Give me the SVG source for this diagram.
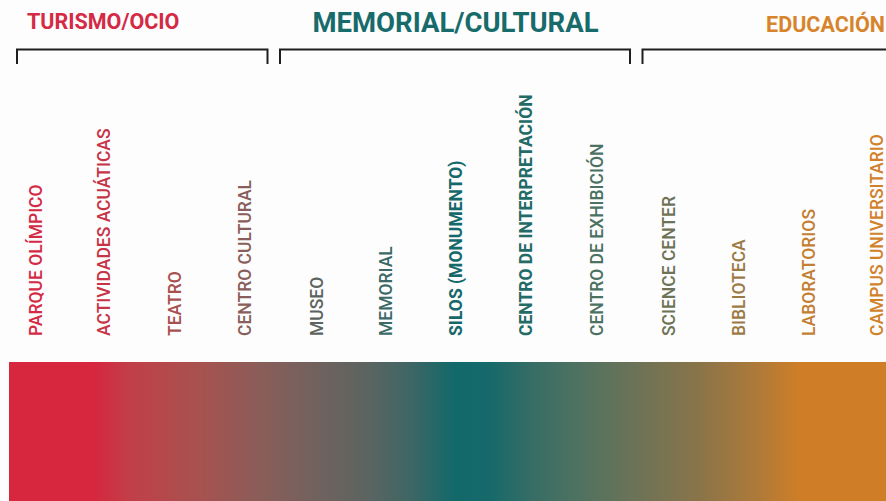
<svg xmlns="http://www.w3.org/2000/svg" width="886" height="501" viewBox="0 0 886 501">
  <style>
    .hdr { font-family: Roboto, "Liberation Sans", sans-serif; font-weight: 700; }
    .lbl { font-family: Roboto, "Liberation Sans", sans-serif; font-size: 17.5px; font-weight: 500; }
    .b { font-weight: 700; }
    .br { fill: none; stroke: #1e1e1e; stroke-width: 2; }
  </style>
  <defs>
    <linearGradient id="grad" gradientUnits="userSpaceOnUse" x1="9" y1="0" x2="886" y2="0">
      <stop offset="0" stop-color="#d6273f"/>
      <stop offset="0.098" stop-color="#d6273f"/>
      <stop offset="0.138" stop-color="#c13f48"/>
      <stop offset="0.218" stop-color="#a7524f"/>
      <stop offset="0.286" stop-color="#8a5d59"/>
      <stop offset="0.355" stop-color="#6f625e"/>
      <stop offset="0.412" stop-color="#5a6461"/>
      <stop offset="0.457" stop-color="#3f6665"/>
      <stop offset="0.508" stop-color="#12696a"/>
      <stop offset="0.548" stop-color="#16696a"/>
      <stop offset="0.594" stop-color="#356d66"/>
      <stop offset="0.651" stop-color="#507260"/>
      <stop offset="0.720" stop-color="#6e7356"/>
      <stop offset="0.788" stop-color="#8a7449"/>
      <stop offset="0.857" stop-color="#b07a38"/>
      <stop offset="0.902" stop-color="#cf7e27"/>
      <stop offset="1" stop-color="#cf7e27"/>
    </linearGradient>
  </defs>
  <rect x="0" y="0" width="886" height="501" fill="#fdfdfd"/>

  <g id="headers">
    <g id="h-turismo"><text class="hdr" x="27" y="29" font-size="21.5" fill="#d42a45">TURISMO/OCIO</text></g>
    <g id="h-memorial"><text class="hdr" x="455.5" y="32" font-size="27.5" fill="#186b6b" text-anchor="middle">MEMORIAL/CULTURAL</text></g>
    <g id="h-educacion"><text class="hdr" x="885" y="32" font-size="21.5" fill="#d8842c" text-anchor="end">EDUCACIÓN</text></g>
  </g>

  <g id="connectors">
    <path class="br" d="M17,64 V49.5 H267.5 V64"/>
    <path class="br" d="M280,64 V49.5 H630 V64"/>
    <path class="br" d="M642.5,64 V49.5 H886"/>
  </g>

  <g id="labels">
    <g id="n1"><text class="lbl" transform="translate(42,336) rotate(-90)" fill="#d42a45">PARQUE OLÍMPICO</text></g>
    <g id="n2"><text class="lbl" transform="translate(110,336) rotate(-90)" fill="#c83447">ACTIVIDADES ACUÁTICAS</text></g>
    <g id="n3"><text class="lbl" transform="translate(181,336) rotate(-90)" fill="#a8504f">TEATRO</text></g>
    <g id="n4"><text class="lbl" transform="translate(251,336) rotate(-90)" fill="#8a5e5a">CENTRO CULTURAL</text></g>
    <g id="n5"><text class="lbl" transform="translate(323,336) rotate(-90)" fill="#5c6460">MUSEO</text></g>
    <g id="n6"><text class="lbl" transform="translate(392,336) rotate(-90)" fill="#3b6a66">MEMORIAL</text></g>
    <g id="n7"><text class="lbl b" transform="translate(462,336) rotate(-90)" fill="#16696a">SILOS (MONUMENTO)</text></g>
    <g id="n8"><text class="lbl b" transform="translate(532,336) rotate(-90)" fill="#226b67">CENTRO DE INTERPRETACIÓN</text></g>
    <g id="n9"><text class="lbl" transform="translate(603,336) rotate(-90)" fill="#4b7163">CENTRO DE EXHIBICIÓN</text></g>
    <g id="n10"><text class="lbl" transform="translate(675,336) rotate(-90)" fill="#6d7356">SCIENCE CENTER</text></g>
    <g id="n11"><text class="lbl" transform="translate(745,336) rotate(-90)" fill="#9c7a45">BIBLIOTECA</text></g>
    <g id="n12"><text class="lbl" transform="translate(815,336) rotate(-90)" fill="#c47f34">LABORATORIOS</text></g>
    <g id="n13"><text class="lbl" transform="translate(883,336) rotate(-90)" fill="#d2812b">CAMPUS UNIVERSITARIO</text></g>
  </g>

  <g id="gradient-bar">
    <rect x="9" y="362" width="877" height="139" fill="url(#grad)"/>
  </g>
</svg>
